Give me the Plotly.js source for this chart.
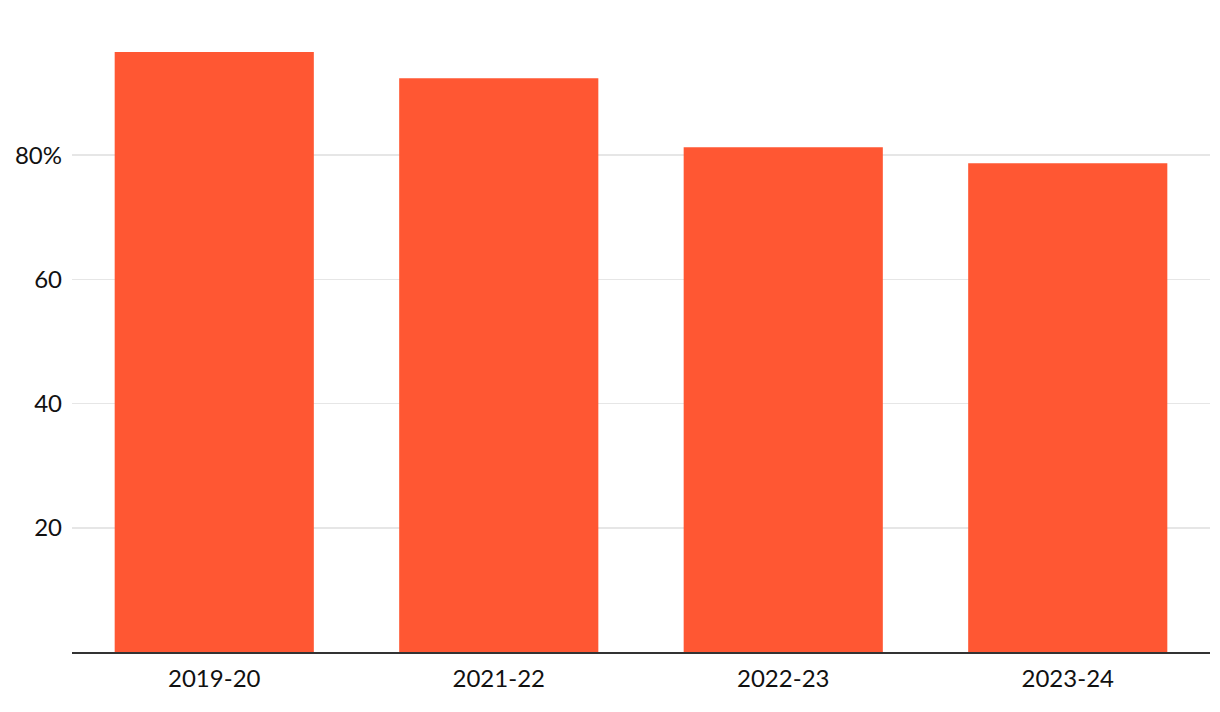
<!DOCTYPE html>
<html>
<head>
<meta charset="utf-8">
<script src="https://cdn.plot.ly/plotly-3.0.1.min.js"></script>
<style>html,body{margin:0;padding:0;background:#fff;}#chart{width:1220px;height:712px;}</style>
</head>
<body>
<div id="chart"></div>
<script>
const categories = ["2019-20", "2021-22", "2022-23", "2023-24"];
const values = [96.6, 92.4, 81.3, 78.7];
const yTickVals = [20, 40, 60, 80];
const yTickText = ["20", "40", "60", "80%"];

const trace = {
  type: "bar",
  x: categories,
  y: values,
  marker: {color: "#FF5733"},
  hoverinfo: "x+y"
};

const layout = {
  width: 1220,
  height: 712,
  margin: {l: 72, r: 10, t: 31, b: 60},
  paper_bgcolor: "#ffffff",
  plot_bgcolor: "#ffffff",
  font: {family: "Lato, 'Open Sans', sans-serif", size: 24, color: "#111"},
  bargap: 0.3,
  showlegend: false,
  xaxis: {
    type: "category",
    showline: true,
    linecolor: "#333",
    linewidth: 2,
    ticks: "",
    showgrid: false,
    ticklabelstandoff: 4,
    tickfont: {size: 24, color: "#111"}
  },
  yaxis: {
    range: [0, 100],
    tickvals: yTickVals,
    ticktext: yTickText,
    showgrid: true,
    gridcolor: "#e6e6e6",
    gridwidth: 1.5,
    zeroline: false,
    showline: false,
    ticks: "",
    ticklabelstandoff: 9,
    tickfont: {size: 24, color: "#111"}
  }
};

Plotly.newPlot("chart", [trace], layout, {displayModeBar: false, staticPlot: true});
</script>
</body>
</html>
